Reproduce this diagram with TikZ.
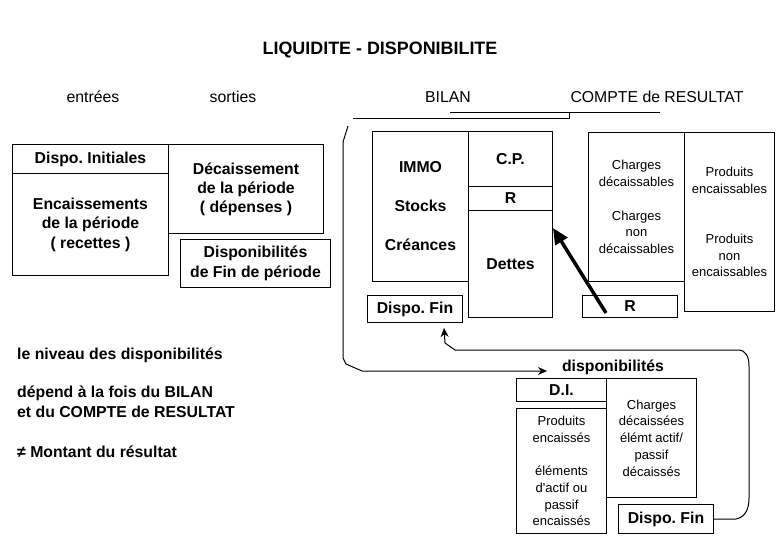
\documentclass[tikz,border=0pt]{standalone}
\usepackage{fontspec}
\setmainfont{Liberation Sans}
\usetikzlibrary{arrows.meta,calc}
\frenchspacing
\begin{document}
\begin{tikzpicture}[x=1pt,y=-1pt,
  box/.style={draw, line width=1pt, inner sep=0pt, align=center, anchor=north west},
  bf/.style={font=\fontsize{15.8}{19.5}\selectfont\bfseries},
  rg/.style={font=\fontsize{13}{16.7}\selectfont},
  hd/.style={font=\fontsize{15.8}{18}\selectfont},
  ttl/.style={font=\fontsize{17.9}{20}\selectfont\bfseries},
  lft/.style={font=\fontsize{15.8}{19}\selectfont\bfseries, anchor=west, inner sep=0pt},
  conn/.style={line width=1pt},
  smallarrow/.style={-{Stealth[length=9pt,width=8pt]}},
  thickarrow/.style={line width=3.5pt,-{Triangle[length=16pt,width=14pt]}}
]
\useasboundingbox (0,0) rectangle (779,539);
% titles
\node[ttl] (title) at (380,50) {LIQUIDITE - DISPONIBILITE};
\node[hd] (hin) at (93,97) {entrées};
\node[hd] (hout) at (233,97) {sorties};
\node[hd] (hbil) at (448,97) {BILAN};
\node[hd] (hcr) at (657,97) {COMPTE de RESULTAT};
% lines under headings
\draw[conn] (450,112) -- (660,112);
\draw[conn] (353,118) -- (569,118) -- (569,112);
% left boxes
\node[box,bf,minimum width=156pt,minimum height=29pt] (di) at (12,144) {Dispo. Initiales};
\node[box,bf,minimum width=156pt,minimum height=102pt] (enc) at (12,173) {Encaissements\\de la période\\( recettes )};
\node[box,bf,minimum width=155pt,minimum height=89pt,font=\fontsize{15.8}{19}\selectfont\bfseries] (dec) at (168,144) {Décaissement\\de la période\\( dépenses )};
\node[box,bf,minimum width=150pt,minimum height=48pt] (dfp) at (180,239) {Disponibilités\\de Fin de période};
% bilan
\node[box,bf,minimum width=96pt,minimum height=150pt] (actif) at (372,131) {IMMO\\[19.5pt]Stocks\\[19.5pt]Créances};
\node[box,bf,minimum width=84pt,minimum height=55pt] (cp) at (468,131) {C.P.};
\node[box,bf,minimum width=84pt,minimum height=24pt] (rb) at (468,186) {R};
\node[box,bf,minimum width=84pt,minimum height=107pt] (dettes) at (468,210) {Dettes};
\node[box,bf,minimum width=95pt,minimum height=27pt] (dfin) at (367,295) {Dispo. Fin};
% compte de resultat
\node[box,rg,minimum width=96pt,minimum height=149pt] (chg) at (588,132) {Charges\\décaissables\\[16.7pt]Charges\\non\\décaissables};
\node[box,rg,minimum width=90pt,minimum height=179pt] (prd) at (684,132) {Produits\\encaissables\\[33.4pt]Produits\\non\\encaissables};
\node[box,bf,minimum width=95pt,minimum height=22pt] (rcr) at (582,295) {R};
% disponibilites
\node[bf] (displbl) at (613,367) {disponibilités};
\node[box,bf,minimum width=90pt,minimum height=23pt] (dib) at (516,378) {D.I.};
\node[box,rg,minimum width=90pt,minimum height=125pt] (pe) at (516,408) {Produits\\encaissés\\[16.8pt]éléments\\d\textquotesingle actif ou\\passif\\encaissés};
\node[box,rg,minimum width=90pt,minimum height=119pt] (cd) at (606,378) {Charges\\décaissées\\élémt actif/\\passif\\décaissés};
\node[box,bf,minimum width=95pt,minimum height=29pt] (dfin2) at (618,504) {Dispo. Fin};
% left text
\node[lft] (t1) at (17,355) {le niveau des disponibilités};
\node[lft] (t2) at (17,393) {dépend à la fois du BILAN};
\node[lft] (t3) at (17,412) {et du COMPTE de RESULTAT};
\node[lft] (t4) at (17,452) {≠ Montant du résultat};
% connectors
\coordinate (lstart) at (348,126);
\coordinate (ltip) at (547,371);
\draw[conn,smallarrow] (lstart) -- (343,142) -- (343,358) -- (346,364) -- (362,371) -- (ltip);
\coordinate (rtip) at (444,328);
\draw[conn,smallarrow] (dfin2.east) -- (736,519) .. controls (746,517) and (749,508) .. (749,498) -- (749,366) .. controls (749,357) and (746,350) .. (738,350) -- (455,350) -- (445,343) -- (rtip);
\coordinate (thkS) at (606,313);
\coordinate (thkE) at (553,228);
\draw[thickarrow] (thkS) -- (thkE);
\end{tikzpicture}
\end{document}
